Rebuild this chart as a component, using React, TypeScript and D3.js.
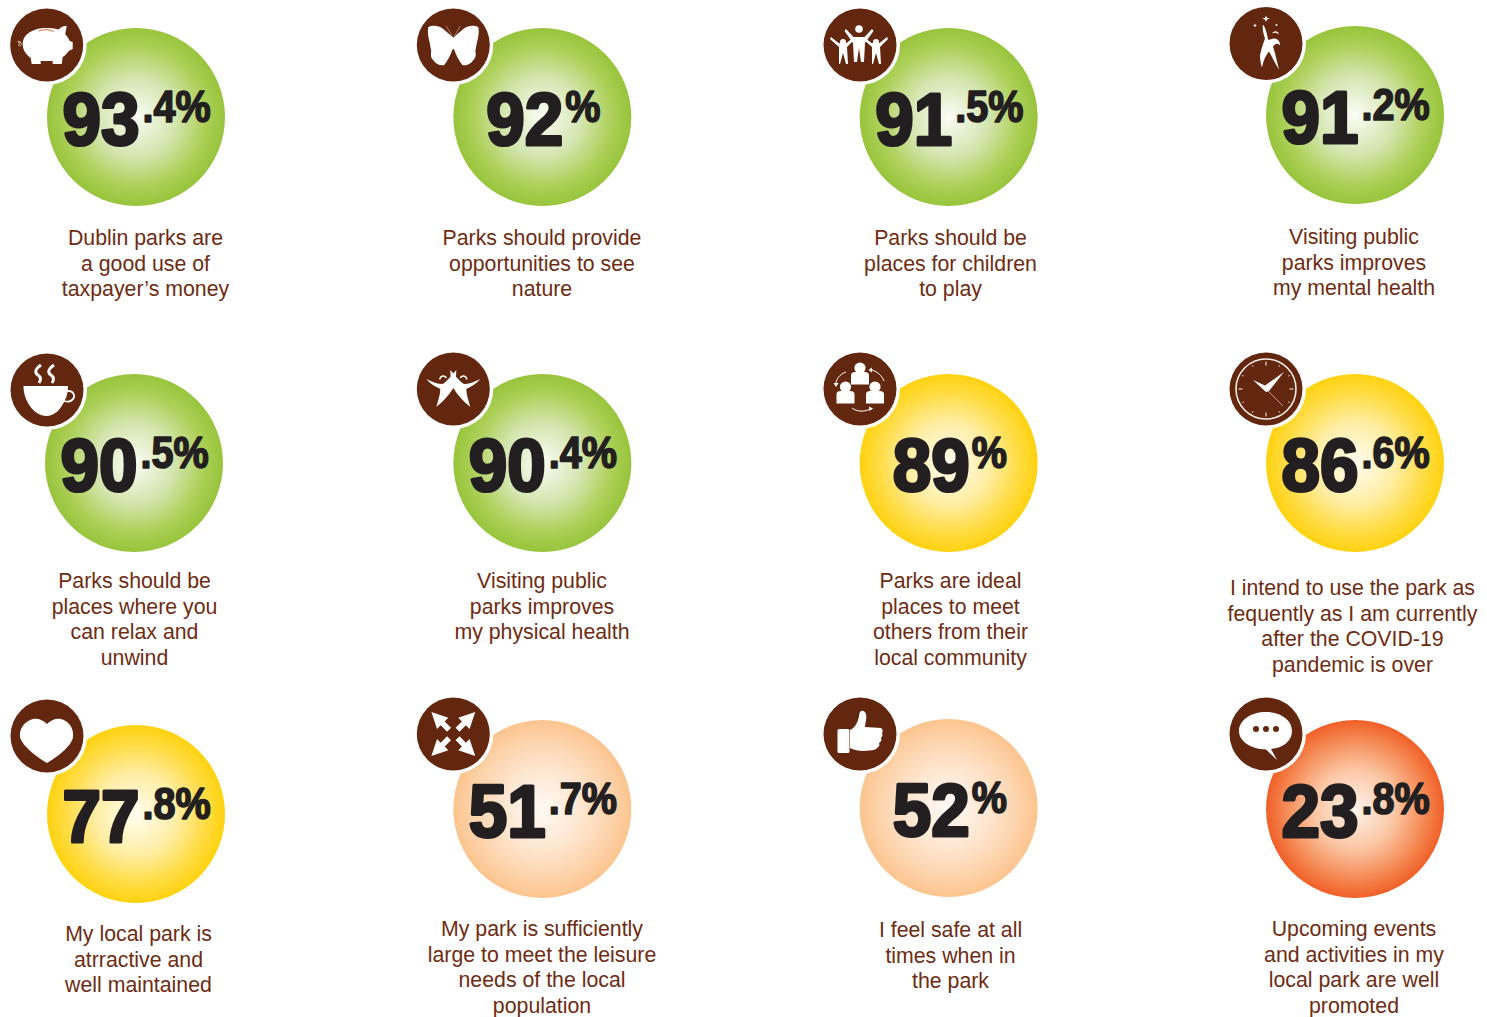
import React from "react";
import * as d3 from "d3";

// Survey results, in reading order.
const statements: string[][] = [
  ["Dublin parks are", "a good use of", "taxpayer’s money"],
  ["Parks should provide", "opportunities to see", "nature"],
  ["Parks should be", "places for children", "to play"],
  ["Visiting public", "parks improves", "my mental health"],
  ["Parks should be", "places where you", "can relax and", "unwind"],
  ["Visiting public", "parks improves", "my physical health"],
  ["Parks are ideal", "places to meet", "others from their", "local community"],
  ["I intend to use the park as", "fequently as I am currently", "after the COVID-19", "pandemic is over"],
  ["My local park is", "atrractive and", "well maintained"],
  ["My park is sufficiently", "large to meet the leisure", "needs of the local", "population"],
  ["I feel safe at all", "times when in", "the park"],
  ["Upcoming events", "and activities in my", "local park are well", "promoted"],
];
const agreement: number[] = [93.4, 92, 91.5, 91.2, 90.5, 90.4, 89, 86.6, 77.8, 51.7, 52, 23.8];
const icons: string[] = ["pig", "butterfly", "family", "dancer", "cup", "pair", "group", "clock", "heart", "arrows", "thumb", "speech"];

// Small per-card shifts away from the regular grid.
const discShift: [number, number][] = [
  [0, 0], [0, 0], [0, 0], [0, -2],
  [-2, 0], [0, 0], [0, 0], [0, 0],
  [0, 5], [0, 0], [0, -1], [0, 0],
];
const badgeShift: [number, number][] = [
  [46.7, 45], [453.3, 45], [860, 45], [1266, 43.5],
  [47, 390], [453.3, 389], [860, 389], [1266, 389],
  [47, 736], [453.3, 734], [860, 734], [1266, 734],
];
const labelAnchor: [number, number][] = [
  [145.5, 245], [542, 245], [950.5, 245], [1354, 244],
  [134.5, 588], [542, 588], [950.5, 588], [1352.5, 595],
  [138.5, 941], [542, 936], [950.5, 937], [1354, 936],
];

const BROWN = "#63270f";
const INK = "#231f20";
const TEXT = "#6e2c13";

const col = d3.scalePoint<number>().domain([0, 1, 2, 3]).range([136, 1355]);
const row = d3.scalePoint<number>().domain([0, 1, 2]).range([117, 809]);
const bandOf = d3.scaleThreshold<number, string>().domain([40, 60, 90]).range(["red", "peach", "yellow", "green"]);

const ramps: Record<string, [string, string, string, string]> = {
  green: ["#fbfdf7", "#d3e5ae", "#add058", "#98c43c"],
  yellow: ["#fffdf0", "#ffeea6", "#ffdc45", "#ffd20f"],
  peach: ["#fffaf5", "#fee6d0", "#fdd3ab", "#fcc48e"],
  red: ["#fef3ec", "#fbc6a4", "#f58a55", "#f15f27"],
};

function mirror(d: string) {
  return (
    <g fill="#fff">
      <path d={d} />
      <path d={d} transform="scale(-1,1)" />
    </g>
  );
}

// Each pictogram is drawn around the centre of its badge.
function Icon({ name }: { name: string }) {
  switch (name) {
    case "pig":
      return (
        <g>
          <path fill="#fff" d="M-24,-1 C-24,-12 -11,-18 2,-17 C6,-17 9,-16 12,-15.5 C14,-18 17,-19.5 20,-19 L18.5,-11 C20,-9 22,-7 23,-4 L26,-3 L26,4 L22,6 C20,9 18,11 16,12 L15,19 L6,19 L6,16 L-6,16 L-6,19 L-15,19 L-16,13 C-21,9 -24,5 -24,-1Z" />
          <path d="M-8,-14 Q0,-17 7,-13.5" fill="none" stroke="#e8662c" strokeWidth={1} />
          <path d="M-25,-1 C-29,-7 -31,-1 -26,-3 C-30,1 -27,3 -25,-1" fill="none" stroke="#e9d8cc" strokeWidth={0.8} />
        </g>
      );
    case "butterfly":
      return (
        <g>
          {mirror("M0.5,-7 L-10,-16 C-15,-20 -21,-20 -25,-18 C-26,-13 -25,-9 -24.5,-6 C-23,-1 -23,3 -22,6 C-23,10 -22,14 -20,15 C-18,19 -13,21 -9,20 C-6,16 -3,11 -1,5 L0.5,3Z")}
          <path d="M-1,-9 L-7,-19 M1,-9 L7,-19" stroke="#d9b8a2" strokeWidth={0.6} fill="none" />
        </g>
      );
    case "family": {
      const body = "M-13,-16 L-5.5,-8 L5.5,-8 L13,-16 L14.5,-14 L6,-2 L5,17 L2,17 L0,3 L-2,17 L-5,17 L-6,-2 L-14.5,-14Z";
      const small = "M-12,-8 L-4.5,-2 L3.5,-2 L11,-8 L12,-6 L4,2 L5,19 L3,19 L0,8 L-3,19 L-4,19 L-4,2 L-13,-6Z";
      return (
        <g fill="#fff">
          <circle cx={-1} cy={-16} r={3.8} />
          <path d={body} transform="translate(-1,0)" />
          <circle cx={-17} cy={-3} r={3} />
          <path d={small} transform="translate(-17,0)" />
          <circle cx={16} cy={-3} r={3} />
          <path d={small} transform="translate(16,0)" />
        </g>
      );
    }
    case "dancer":
      return (
        <g fill="#fff">
          <path d="M0,-28 L1,-25.5 L4,-25 L1,-24 L0,-21.5 L-1,-24 L-4,-25 L-1,-25.5Z" />
          <path d="M-11,-20 L-10.3,-18.6 L-9,-18 L-10.3,-17.4 L-11,-16 L-11.7,-17.4 L-13,-18 L-11.7,-18.6Z" />
          <circle cx={10.5} cy={-18.5} r={1} />
          <path d="M-3,-19 C-4,-13 -2,-8 -1,-5 C-3,1 -5,6 -6,12 C-6,17 -5,21 -4,24 C-3,18 -1,13 3,8 C6,13 9,20 13,26 C11,18 9,9 7,3 C9,0 12,-1 14,2 C14,-2 12,-5 8,-5 C6,-5 3,-3 2,-4 C1,-9 0,-15 -3,-19Z" />
          <path d="M6,-10 C8,-13 12,-13 13,-9 C11,-11 8,-11 6,-10Z" />
        </g>
      );
    case "cup":
      return (
        <g>
          <path fill="#fff" d="M-23.5,-4 L21,-4 C21,2 20,6 18,10 C14,19 8,26 -1,26 C-12,26 -23.5,12 -23.5,-4Z" />
          <path fill="none" stroke="#fff" strokeWidth={1.8} d="M20,1 C27,0 29,7 25,10 C23,12 20,12 17,11" />
          <g fill="none" stroke="#fff" strokeWidth={2.9}>
            <path d="M-6,-25 C-13,-20 -12,-17 -9,-15 C-6,-13 -6,-10 -8,-7" />
            <path d="M7,-25 C0,-20 1,-17 4,-15 C7,-13 7,-10 5,-7" />
          </g>
        </g>
      );
    case "pair":
      return (
        <g>
          {mirror("M-27,-10 C-21,-7 -15,-5 -11,-5 C-8,-6 -3,-12 3,-19 C3,-12 2,-6 0,-1 C-4,6 -11,13 -17,18 C-15,11 -13,5 -13,0 C-17,-2 -23,-5 -27,-10Z")}
          <g fill="none" stroke="#fff" strokeWidth={1.5}>
            <path d="M-13.5,-9.5 C-13,-14 -8,-14 -7,-11" />
            <path d="M13.5,-9.5 C13,-14 8,-14 7,-11" />
          </g>
        </g>
      );
    case "group": {
      const sitter = (x: number, y: number) => (
        <g transform={`translate(${x},${y})`} fill="#fff">
          <circle cy={-7} r={5.6} />
          <path d="M-9,9.5 L-9,0 C-9,-2 -7,-3 -5,-3 L5,-3 C7,-3 9,-2 9,0 L9,9.5Z" />
        </g>
      );
      return (
        <g>
          {sitter(0, -14)}
          {sitter(-14.5, 5)}
          {sitter(15, 5)}
          <g fill="none" stroke="#fff" strokeWidth={1}>
            <path d="M-14,-17 C-20,-15 -24,-10 -24,-5" />
            <path d="M12,-19 C18,-17 22,-13 24,-8" />
            <path d="M-8,19 C-3,23 5,23 10,20" />
          </g>
          <g fill="#fff">
            <path d="M-26.5,-6 L-21.5,-6 L-24,-2Z" />
            <path d="M12,-21.5 L12,-16.5 L8.5,-19Z" />
            <path d="M9,17.5 L13,19.5 L9.5,22Z" />
          </g>
        </g>
      );
    }
    case "clock":
      return (
        <g>
          <circle r={30} fill="none" stroke="#f6ede6" strokeWidth={1.6} />
          {d3.range(12).map((h) => (
            <line key={h} y1={-27.5} y2={h % 3 === 0 ? -23.5 : -25.5} transform={`rotate(${h * 30})`} stroke="#e9d8cc" strokeWidth={h % 3 === 0 ? 1.2 : 0.8} />
          ))}
          <path fill="#fff" d="M-13,-9 L-1,-3.5 L18,-17 L3,2 L0,3Z" />
          <line x1={2} y1={2} x2={17} y2={17} stroke="#d9b8a2" strokeWidth={0.8} />
        </g>
      );
    case "heart":
      return <path fill="#fff" d="M0,-12 C4,-16 9,-18 14,-17 C22,-15 27,-8 26,1 C25,10 9,22 0,27 C-9,22 -25,10 -27,1 C-28,-8 -22,-15 -14,-17 C-9,-18 -4,-16 0,-12Z" />;
    case "arrows": {
      const arrow = "M-2.8,-6 L2.8,-6 L2.8,-15 L8,-15 L0,-31 L-8,-15 L-2.8,-15Z";
      return (
        <g fill="#fff">
          {[45, 135, 225, 315].map((a) => (
            <path key={a} d={arrow} transform={`rotate(${a})`} />
          ))}
        </g>
      );
    }
    case "thumb":
      return (
        <g fill="#fff">
          <rect x={-22.5} y={-5} width={12} height={24} rx={1.5} />
          <path d="M-10,-4 C-5,-6 -2,-12 -1,-18 C-1,-24 4,-25 6,-20 C7,-15 5,-10 5,-7 L21,-6 C23,-5 23,-2 22,-1 C23,1 22,3 21,4 C22,6 21,8 19,9 C20,11 19,13 17,14 C15,17 10,16 4,17 C-2,17 -6,16 -10,14Z" />
        </g>
      );
    case "speech":
      return (
        <g>
          <path fill="#fff" d="M0,-22 C15,-22 26,-14 26,-3 C26,7 17,14 5,15 L11,26 L0,15.5 C-16,15 -27,7 -27,-3 C-27,-14 -15,-22 0,-22Z" />
          <g fill={BROWN}>
            <circle cx={-10} cy={-5} r={3} />
            <circle cy={-5} r={3} />
            <circle cx={10} cy={-5} r={3} />
          </g>
        </g>
      );
    default:
      return null;
  }
}

export default function App() {
  return (
    <svg width={1487} height={1017} style={{ position: "absolute", left: 0, top: 0, background: "#fff" }} fontFamily="'Liberation Sans', Arial, sans-serif">
      <defs>
        {Object.entries(ramps).map(([band, stops]) => (
          <radialGradient id={`disc-${band}`} key={band}>
            {stops.map((c, i) => (
              <stop key={i} offset={[0, 0.45, 0.78, 1][i]} stopColor={c} />
            ))}
          </radialGradient>
        ))}
      </defs>
      {agreement.map((value, i) => {
        const cx = col(i % 4)! + discShift[i][0];
        const cy = row(Math.floor(i / 4))! + discShift[i][1];
        const [major, minor] = String(value).split(".");
        const [bx, by] = badgeShift[i];
        const [lx, ly] = labelAnchor[i];
        return (
          <g key={i}>
            <circle cx={cx} cy={cy} r={89} fill={`url(#disc-${bandOf(value)})`} />
            <text transform={`translate(${cx + (minor ? -73.5 : -56)},${cy + 27.5}) scale(0.935,1)`} fontSize={74} fontWeight={700} fill={INK} stroke={INK} strokeWidth={3.2} strokeLinejoin="round">
              {major}
            </text>
            <text transform={`translate(${cx + (minor ? 6.5 : 23)},${cy + 5}) scale(0.9,1)`} fontSize={44} fontWeight={700} fill={INK} stroke={INK} strokeWidth={1.6} strokeLinejoin="round">
              {minor ? `.${minor}%` : "%"}
            </text>
            <circle cx={bx} cy={by} r={40} fill="#fff" />
            <circle cx={bx} cy={by} r={36.5} fill={BROWN} />
            <g transform={`translate(${bx},${by})`}>
              <Icon name={icons[i]} />
            </g>
            <text textAnchor="middle" fontSize={21.3} fill={TEXT}>
              {statements[i].map((line, k) => (
                <tspan key={k} x={lx} y={ly + k * 25.5}>
                  {line}
                </tspan>
              ))}
            </text>
          </g>
        );
      })}
    </svg>
  );
}
